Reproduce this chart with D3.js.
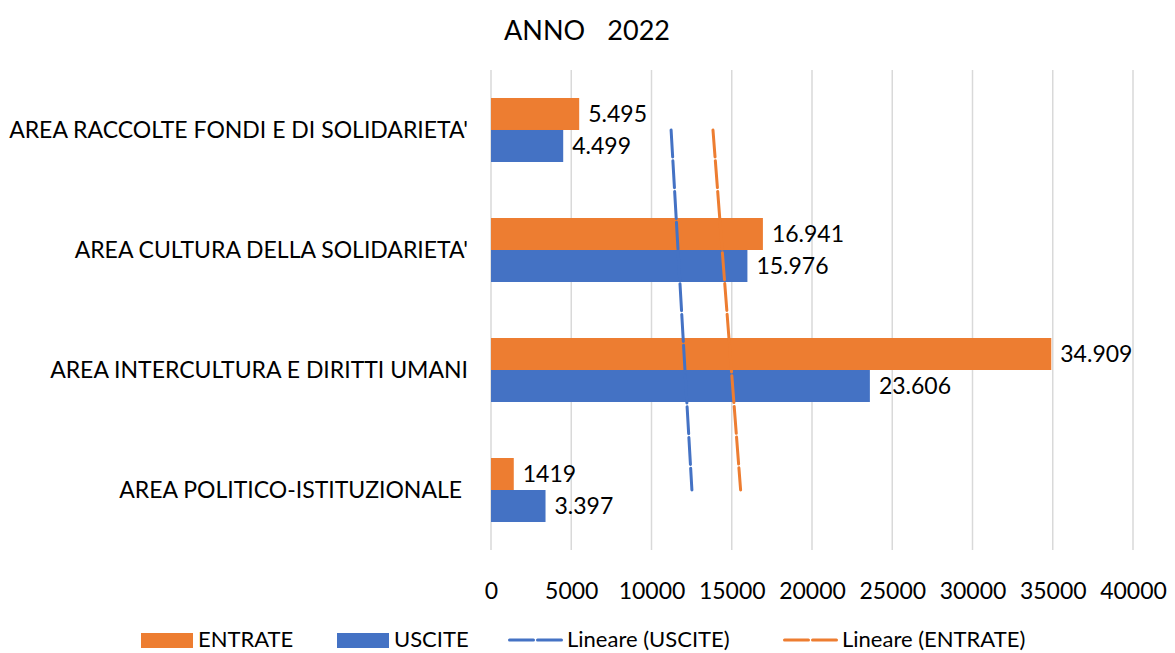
<!DOCTYPE html>
<html>
<head>
<meta charset="utf-8">
<script src="https://cdn.jsdelivr.net/npm/d3@7"></script>
<style>
  html, body { margin: 0; padding: 0; background: #fff; }
  svg { display: block; font-family: Lato, "Open Sans", sans-serif; }
  text { white-space: pre; }
</style>
</head>
<body>
<svg id="chart" width="1175" height="653"></svg>
<script>
// Categories, top to bottom as drawn; trendline index runs bottom (1) to top (4)
const categories = [
  "AREA RACCOLTE FONDI E DI SOLIDARIETA'",
  "AREA CULTURA DELLA SOLIDARIETA'",
  "AREA INTERCULTURA E DIRITTI UMANI",
  "AREA POLITICO-ISTITUZIONALE "
];
const entrate = [5495, 16941, 34909, 1419];
const uscite = [4499, 15976, 23606, 3397];
const entrateLabels = ["5.495", "16.941", "34.909", "1419"];
const usciteLabels = ["4.499", "15.976", "23.606", "3.397"];
const xTicks = [0, 5000, 10000, 15000, 20000, 25000, 30000, 35000, 40000];
const seriesNames = ["ENTRATE", "USCITE"];
const title = "ANNO   2022";

const COLORS = { ENTRATE: "#ED7D31", USCITE: "#4472C4" };
const FONT = 23;

const svg = d3.select("#chart");
const plot = { left: 491, right: 1133, top: 70, bottom: 550 };

const x = d3.scaleLinear().domain([0, 40000]).range([plot.left, plot.right]);
const y = d3.scaleBand().domain(categories).range([plot.top, plot.bottom])
  .paddingInner(0.4667).paddingOuter(0.2333);
const ySub = d3.scaleBand().domain(seriesNames).range([0, y.bandwidth()]);

// Title
svg.append("text").attr("x", 587).attr("y", 40).attr("text-anchor", "middle")
  .attr("font-size", 27).attr("word-spacing", 0.5).attr("fill", "#000").text(title);

// Vertical gridlines
svg.append("g").selectAll("line").data(xTicks).join("line")
  .attr("x1", d => x(d)).attr("x2", d => x(d))
  .attr("y1", plot.top).attr("y2", plot.bottom)
  .attr("stroke", "#D9D9D9").attr("stroke-width", 1.5);

// X axis tick labels
const xAxis = d3.axisBottom(x).tickValues(xTicks).tickFormat(d3.format("d")).tickSize(0).tickPadding(0);
const gx = svg.append("g").attr("transform", `translate(0,${plot.bottom + 49})`).call(xAxis);
gx.select(".domain").remove();
gx.selectAll("text").attr("font-size", FONT).attr("fill", "#000")
  .attr("font-family", "Lato, 'Open Sans', sans-serif").attr("dy", 0);

// Category labels
svg.append("g").selectAll("text").data(categories).join("text")
  .attr("x", 468).attr("y", d => y(d) + y.bandwidth() / 2)
  .attr("dy", "0.35em").attr("text-anchor", "end")
  .attr("font-size", FONT).attr("fill", "#000").text(d => d);

// Bars and value labels
const rows = categories.map((c, i) => ({
  cat: c,
  vals: [
    { s: "ENTRATE", v: entrate[i], label: entrateLabels[i] },
    { s: "USCITE", v: uscite[i], label: usciteLabels[i] }
  ]
}));

const groups = svg.append("g").selectAll("g").data(rows).join("g")
  .attr("transform", d => `translate(0,${y(d.cat)})`);

groups.selectAll("rect").data(d => d.vals).join("rect")
  .attr("x", x(0)).attr("y", d => ySub(d.s))
  .attr("width", d => x(d.v) - x(0)).attr("height", ySub.bandwidth())
  .attr("fill", d => COLORS[d.s]);

groups.selectAll("text").data(d => d.vals).join("text")
  .attr("x", d => x(d.v) + 9).attr("y", d => ySub(d.s) + ySub.bandwidth() / 2)
  .attr("dy", "0.35em").attr("font-size", FONT).attr("fill", "#000")
  .text(d => d.label);

// Linear trendlines (least squares over category index, 1 = bottom category)
function trend(values) {
  const n = values.length;
  const pts = values.map((v, i) => ({ t: n - i, v }));
  const mt = d3.mean(pts, p => p.t), mv = d3.mean(pts, p => p.v);
  const slope = d3.sum(pts, p => (p.t - mt) * (p.v - mv)) / d3.sum(pts, p => (p.t - mt) ** 2);
  return pts.map(p => ({ cat: categories[n - p.t], v: mv + slope * (p.t - mt) }));
}
const trendLine = d3.line().x(d => x(d.v)).y(d => y(d.cat) + y.bandwidth() / 2);
[["USCITE", uscite], ["ENTRATE", entrate]].forEach(([name, vals]) => {
  const tp = trend(vals);
  const ends = [tp[0], tp[tp.length - 1]];
  svg.append("path").datum(ends).attr("d", trendLine)
    .attr("fill", "none").attr("stroke", COLORS[name]).attr("stroke-width", 3)
    .attr("stroke-linecap", "round").attr("stroke-dasharray", "27,3.8");
});

// Legend
const legend = svg.append("g").attr("transform", "translate(0,640)");
const legendItems = [
  { type: "rect", color: COLORS.ENTRATE, x: 141, text: "ENTRATE" },
  { type: "rect", color: COLORS.USCITE, x: 337, text: "USCITE" },
  { type: "line", color: COLORS.USCITE, x: 508, text: "Lineare (USCITE)" },
  { type: "line", color: COLORS.ENTRATE, x: 783, text: "Lineare (ENTRATE)" }
];
legendItems.forEach(it => {
  if (it.type === "rect") {
    legend.append("rect").attr("x", it.x).attr("y", -7).attr("width", 52).attr("height", 15).attr("fill", it.color);
  } else {
    legend.append("line").attr("x1", it.x + 1.5).attr("x2", it.x + 53.5).attr("y1", 0).attr("y2", 0)
      .attr("stroke", it.color).attr("stroke-width", 3)
      .attr("stroke-linecap", "round").attr("stroke-dasharray", "24,4");
  }
  legend.append("text").attr("x", it.x + (it.type === "rect" ? 57 : 59)).attr("y", 0)
    .attr("dy", "0.3em").attr("font-size", 22).attr("fill", "#000").text(it.text);
});
</script>
</body>
</html>
